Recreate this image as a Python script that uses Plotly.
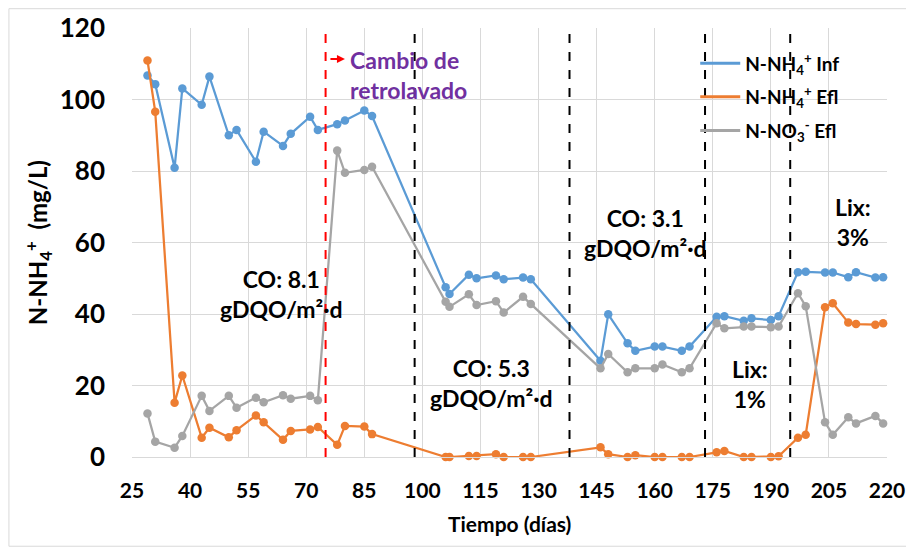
import plotly.graph_objects as go

# ---- data ----
days = [29, 31, 36, 38, 43, 45, 50, 52, 57, 59, 64, 66, 71, 73, 78, 80, 85, 87,
        106, 107, 112, 114, 119, 121, 126, 128,
        146, 148, 153, 155, 160, 162, 167, 169,
        176, 178, 183, 185, 190, 192,
        197, 199, 204, 206, 210, 212, 217, 219]

nh4_inf = [106.7, 104.3, 80.9, 103.1, 98.5, 106.4, 90.0, 91.5, 82.6, 91.0, 87.0, 90.4, 95.2, 91.5, 93.1, 94.1, 96.9, 95.4,
           47.5, 45.6, 51.0, 50.0, 50.8, 49.7, 50.2, 49.7,
           26.9, 39.9, 31.8, 29.7, 30.9, 30.9, 29.7, 30.9,
           39.2, 39.4, 38.1, 38.8, 38.3, 39.4,
           51.7, 51.8, 51.6, 51.6, 50.3, 51.7, 50.2, 50.3]

nh4_efl = [110.9, 96.6, 15.2, 22.8, 5.4, 8.2, 5.5, 7.5, 11.6, 9.7, 4.8, 7.3, 7.7, 8.4, 3.4, 8.7, 8.5, 6.4,
           0.0, 0.0, 0.3, 0.3, 0.8, 0.0, 0.0, 0.0,
           2.7, 0.8, 0.0, 0.5, 0.0, 0.0, 0.0, 0.0,
           1.3, 1.7, 0.0, 0.0, 0.0, 0.2,
           5.4, 6.2, 41.9, 43.0, 37.6, 37.2, 37.0, 37.4]

no3_efl = [12.2, 4.3, 2.6, 5.9, 17.1, 12.9, 17.1, 13.8, 16.6, 15.3, 17.3, 16.3, 17.1, 15.9, 85.7, 79.5, 80.3, 81.2,
           43.4, 42.0, 45.5, 42.5, 43.6, 40.4, 44.8, 42.8,
           24.8, 28.8, 23.7, 24.8, 24.8, 25.9, 23.7, 24.8,
           37.4, 36.0, 36.5, 36.5, 36.3, 36.5,
           45.8, 42.2, 9.7, 6.2, 11.1, 9.4, 11.5, 9.4]

series_names = ["N-NH<sub>4</sub><sup>+</sup> Inf",
                "N-NH<sub>4</sub><sup>+</sup> Efl",
                "N-NO<sub>3</sub><sup>-</sup> Efl"]
series_colors = ["#5B9BD5", "#ED7D31", "#A5A5A5"]

backwash_day = 75
period_limits = [98, 138, 173, 195]

x_ticks = list(range(25, 221, 15))
y_ticks = list(range(0, 121, 20))

FONT = "Lato"

fig = go.Figure()
for vals, name, col in zip([nh4_inf, nh4_efl, no3_efl], series_names, series_colors):
    fig.add_trace(go.Scatter(x=days, y=vals, mode="lines+markers", name=name,
                             line=dict(color=col, width=2.25),
                             marker=dict(color=col, size=8.5),
                             showlegend=False, cliponaxis=False))
# legend entries (line only)
for i, (name, col) in enumerate(zip(series_names, series_colors)):
    fig.add_trace(go.Scatter(x=[None], y=[None], mode="lines", name=name,
                             line=dict(color=col, width=3), legendgroup=str(i)))

shapes = [dict(type="line", xref="x", yref="y", x0=backwash_day, x1=backwash_day, y0=0, y1=120,
               line=dict(color="#FF0000", width=2, dash="dash"))]
for d in period_limits:
    shapes.append(dict(type="line", xref="x", yref="y", x0=d, x1=d, y0=0, y1=120,
                       line=dict(color="#000000", width=2, dash="dash")))
# outer chart border
shapes.append(dict(type="rect", xref="paper", yref="paper", x0=-0.163, x1=1.03, y0=-0.208, y1=1.045,
                   line=dict(color="#D9D9D9", width=1), layer="below"))

ann_font = dict(family=FONT, size=23, color="#000000", weight="bold")
annotations = [
    dict(x=63.6, y=45.5, text="CO: 8.1<br>gDQO/m²·d"),
    dict(x=117.9, y=20.8, text="CO: 5.3<br>gDQO/m²·d"),
    dict(x=157.7, y=62.6, text="CO: 3.1<br>gDQO/m²·d"),
    dict(x=184.6, y=20.4, text="Lix:<br>1%"),
    dict(x=211.2, y=65.7, text="Lix:<br>3%"),
]
for a in annotations:
    a.update(xref="x", yref="y", showarrow=False, font=ann_font, align="center")
annotations.append(dict(x=80.8, y=106.9, xref="x", yref="y", xanchor="left", align="left",
                        text="Cambio de<br>retrolavado", showarrow=False,
                        font=dict(family=FONT, size=23, color="#7030A0", weight="bold")))
annotations.append(dict(x=80.0, y=111.3, xref="x", yref="y", ax=-16, ay=0, text="",
                        showarrow=True, arrowhead=2, arrowsize=0.8, arrowwidth=2, arrowcolor="#FF0000"))
# axis titles
annotations.append(dict(x=-0.125, y=0.5, xref="paper", yref="paper", xanchor="center", yanchor="middle",
                        textangle=-90, showarrow=False,
                        text="N-NH<sub>4</sub><sup>+</sup>  (mg/L)",
                        font=dict(family=FONT, size=24, color="#000000", weight="bold")))
annotations.append(dict(x=0.5, y=-0.156, xref="paper", yref="paper", xanchor="center", yanchor="middle",
                        showarrow=False, text="Tiempo (días)",
                        font=dict(family=FONT, size=21, color="#000000", weight="bold")))

fig.update_layout(
    width=906, height=550,
    margin=dict(l=132, r=19, t=28, b=93, autoexpand=False),
    paper_bgcolor="white", plot_bgcolor="white",
    font=dict(family=FONT, color="#000000"),
    shapes=shapes, annotations=annotations,
    legend=dict(x=0.746, y=0.962, xanchor="left", yanchor="top", bgcolor="rgba(0,0,0,0)",
                font=dict(family=FONT, size=19, color="#000000", weight="bold"), tracegroupgap=6,
                itemwidth=40),
    xaxis=dict(range=[25, 220], tickvals=x_ticks, showgrid=True, gridcolor="#D9D9D9", gridwidth=1,
               zeroline=False, showline=True, linecolor="#D9D9D9", mirror=False, automargin=False,
               tickfont=dict(family=FONT, size=21, color="#000000", weight="bold"),
               ticklabelstandoff=15, ticks=""),
    yaxis=dict(range=[0, 120], tickvals=y_ticks, showgrid=True, gridcolor="#D9D9D9", gridwidth=1,
               zeroline=False, showline=False, automargin=False,
               tickfont=dict(family=FONT, size=26, color="#000000", weight="bold"),
               ticklabelstandoff=26, ticks=""),
)

fig.write_html("out.html")
